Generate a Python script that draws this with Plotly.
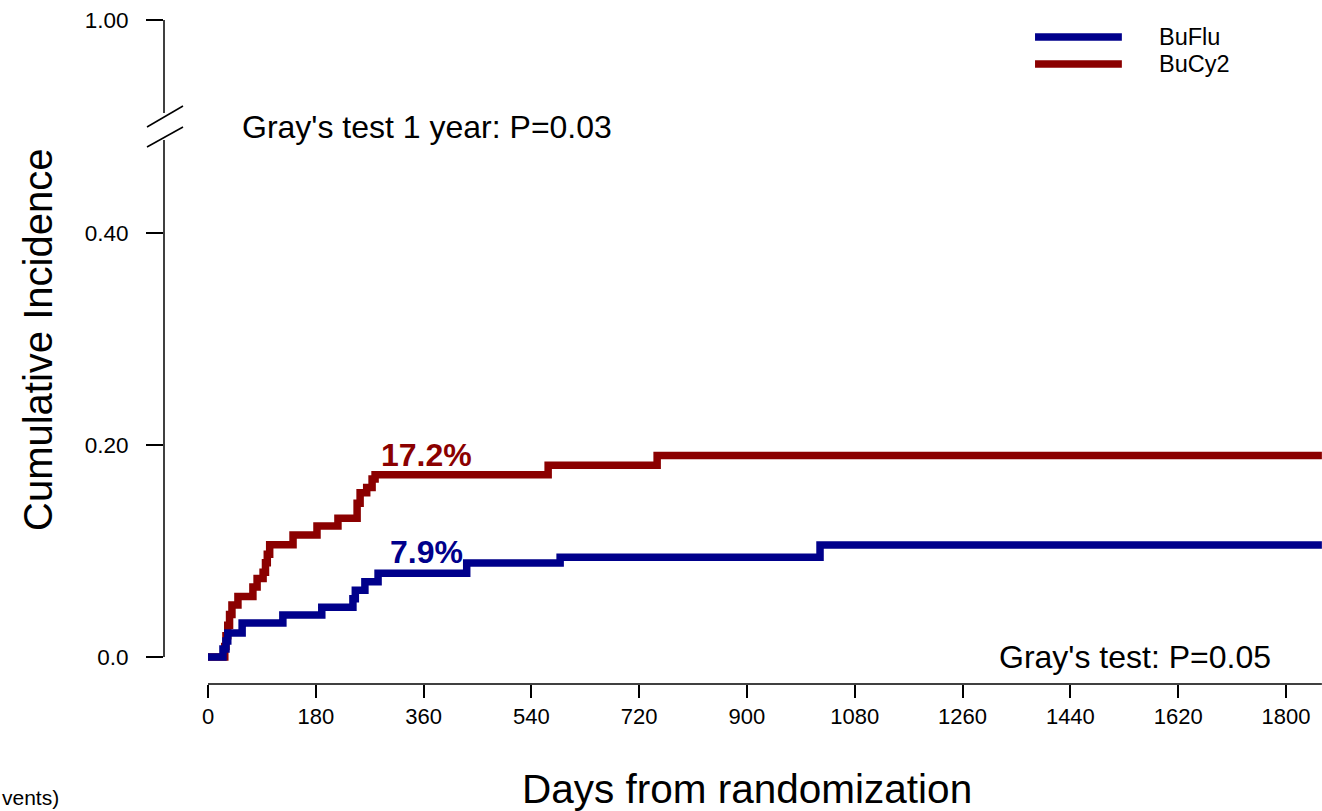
import plotly.graph_objects as go

# ---- data ----
buflu_days = [0, 25, 30, 33, 57, 125, 190, 242, 246, 262, 284, 432, 588, 1022, 1860]
buflu_ci   = [0.0, 0.0075, 0.015, 0.0226, 0.032, 0.0396, 0.047, 0.055, 0.063, 0.071, 0.079, 0.0887, 0.094, 0.1057, 0.1057]

bucy2_days = [0, 28, 30, 33, 36, 40, 50, 75, 82, 92, 96, 99, 103, 142, 182, 217, 249, 254, 265, 274, 279, 568, 750, 1860]
bucy2_ci   = [0.0, 0.01, 0.02, 0.03, 0.04, 0.049, 0.057, 0.066, 0.074, 0.080, 0.089, 0.097, 0.106, 0.115, 0.1236,
              0.131, 0.145, 0.155, 0.160, 0.168, 0.172, 0.181, 0.190, 0.190]

series_names = ["BuFlu", "BuCy2"]
series_colors = ["#00008B", "#8B0000"]

x_tickvals = [0, 180, 360, 540, 720, 900, 1080, 1260, 1440, 1620, 1800]
y_tickvals = [0.0, 0.20, 0.40, 0.601]   # last tick sits above the axis break
y_ticktext = ["0.0", "0.20", "0.40", "1.00"]

one_year_labels = ["7.9%", "17.2%"]

FONT = "Liberation Sans, Arial, Helvetica, sans-serif"
LW = 7.5

fig = go.Figure()

# BuCy2 drawn first so BuFlu lies on top (as in reference)
fig.add_trace(go.Scatter(x=bucy2_days, y=bucy2_ci, mode="lines", line=dict(color=series_colors[1], width=LW, shape="hv"),
                         name=series_names[1], showlegend=False))
fig.add_trace(go.Scatter(x=buflu_days, y=buflu_ci, mode="lines", line=dict(color=series_colors[0], width=LW, shape="hv"),
                         name=series_names[0], showlegend=False))

# plot area geometry: left 164px, bottom 684px, full height above, right edge of window
W, H = 1322, 811
L, B = 164, 684
def px_x(p):  # pixel -> paper x
    return (p - L) / (W - L)
def px_y(p):  # pixel -> paper y
    return (B - p) / B

shapes = []
# x axis line starting at day 0
shapes.append(dict(type="line", xref="x", yref="paper", x0=0, x1=1860, y0=0, y1=0,
                   line=dict(color="black", width=1.5)))
# y axis line with break
shapes.append(dict(type="line", xref="paper", yref="y", x0=0, x1=0, y0=0, y1=0.4877,
                   line=dict(color="black", width=1.5)))
shapes.append(dict(type="line", xref="paper", yref="y", x0=0, x1=0, y0=0.5132, y1=0.601,
                   line=dict(color="black", width=1.5)))
# break slashes
for (a, b) in [(127, 106), (147, 127)]:
    shapes.append(dict(type="line", xref="paper", yref="paper", x0=px_x(147), x1=px_x(183),
                       y0=px_y(a), y1=px_y(b), line=dict(color="black", width=1.5)))
# manual legend lines
leg_y = [0.585, 0.5594]
for i in range(2):
    shapes.append(dict(type="line", xref="x", yref="y", x0=1381, x1=1526, y0=leg_y[i], y1=leg_y[i],
                       line=dict(color=series_colors[i], width=LW)))

annotations = []
for i in range(2):
    annotations.append(dict(x=1584, y=leg_y[i], xref="x", yref="y", text=series_names[i], showarrow=False,
                            xanchor="left", yanchor="middle", font=dict(family=FONT, size=23.5, color="black")))
annotations.append(dict(x=53, y=0.5, xref="x", yref="y", text="Gray's test 1 year: P=0.03", showarrow=False,
                        xanchor="left", yanchor="middle", font=dict(family=FONT, size=32, color="black")))
annotations.append(dict(x=1778, y=0.0, xref="x", yref="y", text="Gray's test: P=0.05", showarrow=False,
                        xanchor="right", yanchor="middle", font=dict(family=FONT, size=32, color="black")))
annotations.append(dict(x=365, y=0.191, xref="x", yref="y", text="<b>%s</b>" % one_year_labels[1], showarrow=False,
                        xanchor="center", yanchor="middle", font=dict(family=FONT, size=32, color=series_colors[1])))
annotations.append(dict(x=365, y=0.099, xref="x", yref="y", text="<b>%s</b>" % one_year_labels[0], showarrow=False,
                        xanchor="center", yanchor="middle", font=dict(family=FONT, size=32, color=series_colors[0])))
annotations.append(dict(x=px_x(38), y=px_y(340), xref="paper", yref="paper", text="Cumulative Incidence",
                        textangle=-90, showarrow=False, xanchor="center", yanchor="middle",
                        font=dict(family=FONT, size=40, color="black")))
annotations.append(dict(x=px_x(747), y=px_y(789), xref="paper", yref="paper", text="Days from randomization",
                        showarrow=False, xanchor="center", yanchor="middle",
                        font=dict(family=FONT, size=40.5, color="black")))
annotations.append(dict(x=px_x(61), y=px_y(797), xref="paper", yref="paper", text="vents)",
                        showarrow=False, xanchor="right", yanchor="middle",
                        font=dict(family=FONT, size=21, color="black")))

fig.update_layout(
    width=W, height=H,
    margin=dict(l=L, r=0, t=0, b=H - B),
    paper_bgcolor="white", plot_bgcolor="white",
    shapes=shapes, annotations=annotations,
    xaxis=dict(range=[-73.47, 1860.2], tickvals=x_tickvals, ticktext=[str(v) for v in x_tickvals],
               ticks="outside", ticklen=13, tickwidth=1.5, tickcolor="black",
               showline=False, showgrid=False, zeroline=False,
               tickfont=dict(family=FONT, size=22, color="black")),
    yaxis=dict(range=[-0.02547, 0.6198], tickvals=y_tickvals, ticktext=y_ticktext,
               ticks="outside", ticklen=17, tickwidth=1.5, tickcolor="black",
               showline=False, showgrid=False, zeroline=False, ticklabelstandoff=13,
               tickfont=dict(family=FONT, size=22.5, color="black")),
    showlegend=False,
)

fig.write_html("out.html")
